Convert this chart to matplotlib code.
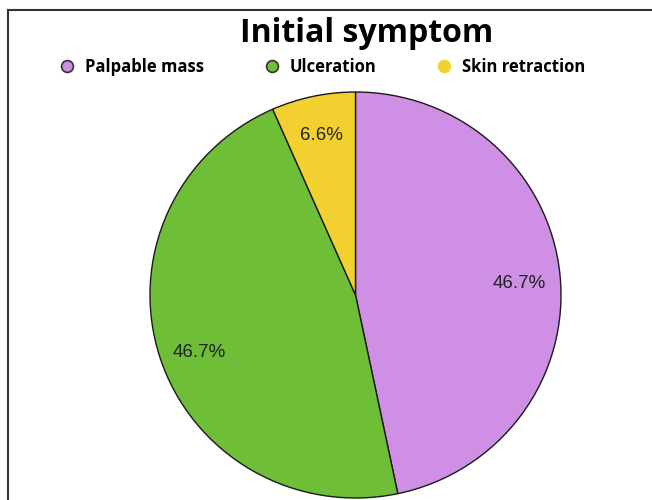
import matplotlib.pyplot as plt
from matplotlib.lines import Line2D

categories = ['Palpable mass', 'Ulceration', 'Skin retraction']
shares = [46.7, 46.7, 6.6]
colors = ['#CF8FE4', '#6EBE38', '#F2D030']
marker_edges = ['#333333', '#333333', '#F2D030']

W, H = 652, 500
fig = plt.figure(figsize=(W / 100, H / 100), dpi=100)

# pie box in pixels: x 150..561, y 92..498 (from top)
ax = fig.add_axes([150 / W, (H - 498) / H, 411 / W, 406 / H])
wedges, texts, autotexts = ax.pie(
    shares, colors=colors, startangle=90, counterclock=False,
    autopct='%.1f%%', pctdistance=0.8,
    wedgeprops=dict(edgecolor='#1a1a1a', linewidth=1.0),
    textprops=dict(family='Liberation Sans', fontsize=13.5, color='#222222'))
ax.set_aspect('auto')
ax.set_xlim(-1.0, 1.0)
ax.set_ylim(-1.0, 1.0)
# small nudges so the labels sit where the original puts them
for t, dy in zip(autotexts, [-0.025, -0.04, 0.005]):
    x, y = t.get_position()
    t.set_position((x, y + dy))

fig.text(367 / W, 1 - 42 / H, 'Initial symptom', ha='center', va='baseline',
         fontsize=23, fontweight='bold', family='Open Sans')

handles = [Line2D([], [], linestyle='none', marker='o', markersize=8.5,
                  markerfacecolor=c, markeredgecolor=e, markeredgewidth=1.2)
           for c, e in zip(colors, marker_edges)]
leg = fig.legend(handles, categories, ncol=3, loc='center',
                 bbox_to_anchor=(322 / W, 1 - 67 / H), frameon=False,
                 prop=dict(family='Open Sans', weight='bold', size=12),
                 handletextpad=0.6, columnspacing=3.55, handlelength=1.0)

# partial frame (left and top edges)
fig.add_artist(Line2D([8 / W, 8 / W], [0, 1 - 10 / H], color='#333333', lw=1.5))
fig.add_artist(Line2D([8 / W, 1], [1 - 10 / H, 1 - 10 / H], color='#333333', lw=1.5))

fig.savefig('out.png', dpi=100)
